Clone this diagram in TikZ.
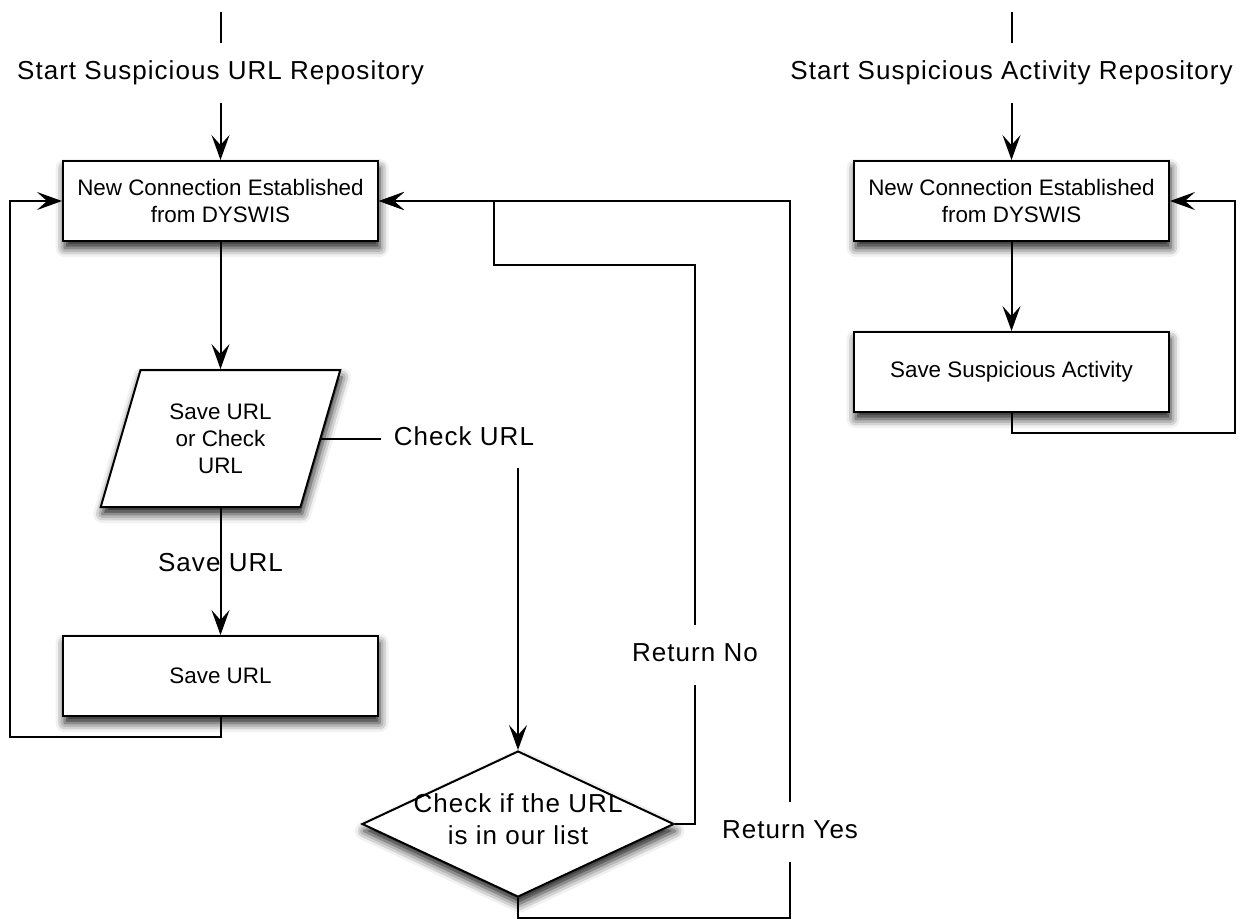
\documentclass[tikz,border=0pt]{standalone}
\usepackage{fontspec}
\setmainfont{Liberation Sans}
\newfontfamily\tagfont[LetterSpace=4]{Liberation Sans}
\usetikzlibrary{positioning,arrows.meta,shapes.geometric,shadows.blur}
\tikzset{
  box/.style   = {draw, line width=1pt, fill=white, align=center, inner sep=0pt,
                  font=\fontsize{11.2}{13.5}\selectfont, minimum width=157.5pt, minimum height=40pt,
                  blur shadow={shadow xshift=0.8pt, shadow yshift=-3.5pt, shadow blur radius=4.5pt, shadow opacity=90}},
  iobox/.style = {box, trapezium, trapezium left angle=70, trapezium right angle=110,
                  trapezium stretches=true, minimum width=120.5pt, minimum height=68.5pt},
  ask/.style   = {box, diamond, minimum width=156pt, minimum height=73pt},
  tag/.style   = {font=\tagfont\fontsize{13}{15}\selectfont, text height=9.5pt, text depth=3pt,
                  inner xsep=6pt, inner ysep=8.5pt},
  asktext/.style = {font=\tagfont\fontsize{13}{16}\selectfont, align=center, inner sep=0pt, yshift=2.5pt},
  flow/.style  = {-{Stealth[length=12.5pt, width=9pt, inset=5pt]}, line width=1pt},
  wire/.style  = {line width=1pt},
}

\begin{document}
\begin{tikzpicture}[x=0.5pt, y=-0.5pt]
  \useasboundingbox (0,0) rectangle (1245,918);
  % URL repository
  \coordinate (in1) at (220.5,12);
  \node[tag] (go1) at (220.5,73) {Start Suspicious URL Repository};
  \node[box] (new1) at (220.5,201) {New Connection Established\\from DYSWIS};
  \node[iobox, below=63.5pt of new1] (pick) {Save URL\\or Check\\URL};
  \node[box, below=63.5pt of pick] (save) {Save URL};
  \node[tag, right=30pt of pick.east] (chk) {Check URL};
  \node[ask, label={[asktext]center:Check if the URL\\is in our list}] (look) at (518,824) {};
  \node[tag] (no) at (695,655) {Return No};
  \node[tag] (yes) at (790,832) {Return Yes};
  \coordinate (jog) at (494,265);
  \draw[wire] (in1) -- (go1.north);
  \draw[flow] (go1.south) -- (new1.north);
  \draw[flow] (new1.south) -- (pick.north);
  \draw[flow] (pick.south) -- node[tag, pos=0.45]{Save URL} (save.north);
  \draw[flow] (save.south) -- ++(0,20) -| ([xshift=-26pt]new1.west) -- (new1.west);
  \draw[wire] (pick.east) -- (chk.west);
  \draw[flow] (chk.south -| look.north) -- (look.north);
  \draw[wire] (look.east) -| (no.south);
  \draw[flow] (no.north) |- (jog) |- (new1.east);
  \draw[wire] (look.south) -- ++(0,20) -| (yes.south);
  \draw[flow] (yes.north) |- (new1.east);
  % activity repository
  \coordinate (in2) at (1011.5,12);
  \node[tag] (go2) at (1011.5,73) {Start Suspicious Activity Repository};
  \node[box] (new2) at (1011.5,201) {New Connection Established\\from DYSWIS};
  \node[box, below=44.5pt of new2] (act) {Save Suspicious Activity};
  \draw[wire] (in2) -- (go2.north);
  \draw[flow] (go2.south) -- (new2.north);
  \draw[flow] (new2.south) -- (act.north);
  \draw[flow] (act.south) -- ++(0,20) -| ([xshift=32.5pt]new2.east) -- (new2.east);
\end{tikzpicture}
\end{document}
